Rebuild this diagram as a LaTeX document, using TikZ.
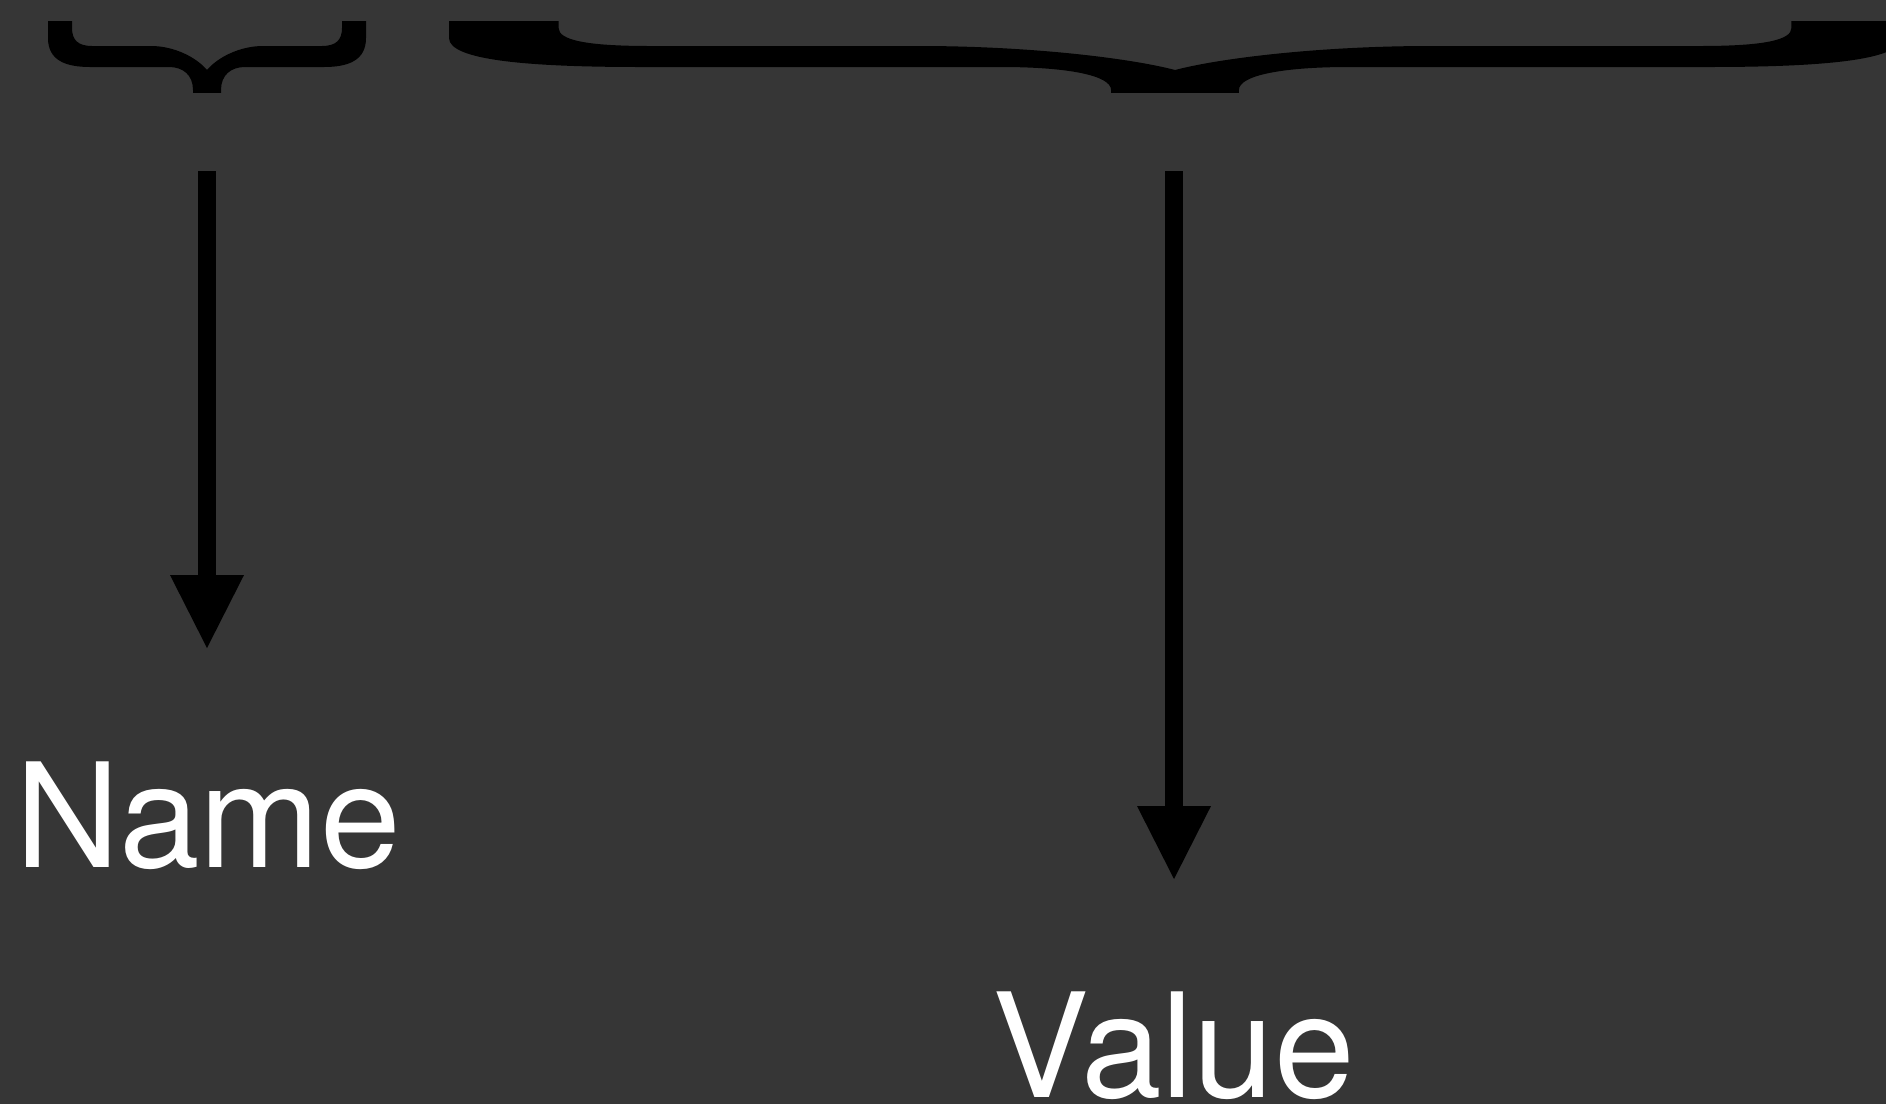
\documentclass[tikz,border=0pt]{standalone}
\usepackage{fontspec}
\setmainfont{TeX Gyre Heros}
\usetikzlibrary{arrows.meta}
\definecolor{bg}{RGB}{54,54,54}
\tikzset{
  % left half of a horizontal curly brace, centred on x = 0, opening upwards
  halfbrace/.pic={
    \fill[black] (-159,0) -- (-159,38)
      .. controls (-159,60) and (-142,67) .. (-117,67) -- (-38,67)
      .. controls (-24,67) and (-14,75) .. (-14,90) -- (-14,100) -- (0,100) -- (0,70)
      .. controls (-10,58) and (-32,46) .. (-56,46) -- (-115,46)
      .. controls (-129,46) and (-135,40) .. (-135,28) -- (-135,0) -- cycle;
  },
  pointer/.style={draw=black, line width=18pt,
    -{Triangle[width=74pt,length=73pt,line width=0pt]}},
  word/.style={text=white, inner sep=0pt, font=\fontsize{145}{170}\selectfont},
}
\begin{document}
\begin{tikzpicture}[x=1pt,y=-1pt]
  \useasboundingbox (0,0) rectangle (1886,1104);
  \fill[bg] (0,0) rectangle (1886,1104);

  % braces, cropped at top and bottom
  \begin{scope}
    \clip (0,21) rectangle (1886,92);
    \pic at (207,0) {halfbrace};
    \pic[xscale=-1] at (207,0) {halfbrace};
    \pic[xscale=4.566] at (1175,0) {halfbrace};
    \pic[xscale=-4.566] at (1175,0) {halfbrace};
  \end{scope}

  % arrow anchors
  \coordinate (nameTail) at (207,171);
  \coordinate (nameHead) at (207,648);
  \coordinate (valueTail) at (1174,171);
  \coordinate (valueHead) at (1174,879);

  \node[word, anchor=base] (name) at (208,867) {Name};
  \node[word, anchor=base] (value) at (1174,1097) {Value};

  \draw[pointer] (nameTail) -- (nameHead);
  \draw[pointer] (valueTail) -- (valueHead);
\end{tikzpicture}
\end{document}
